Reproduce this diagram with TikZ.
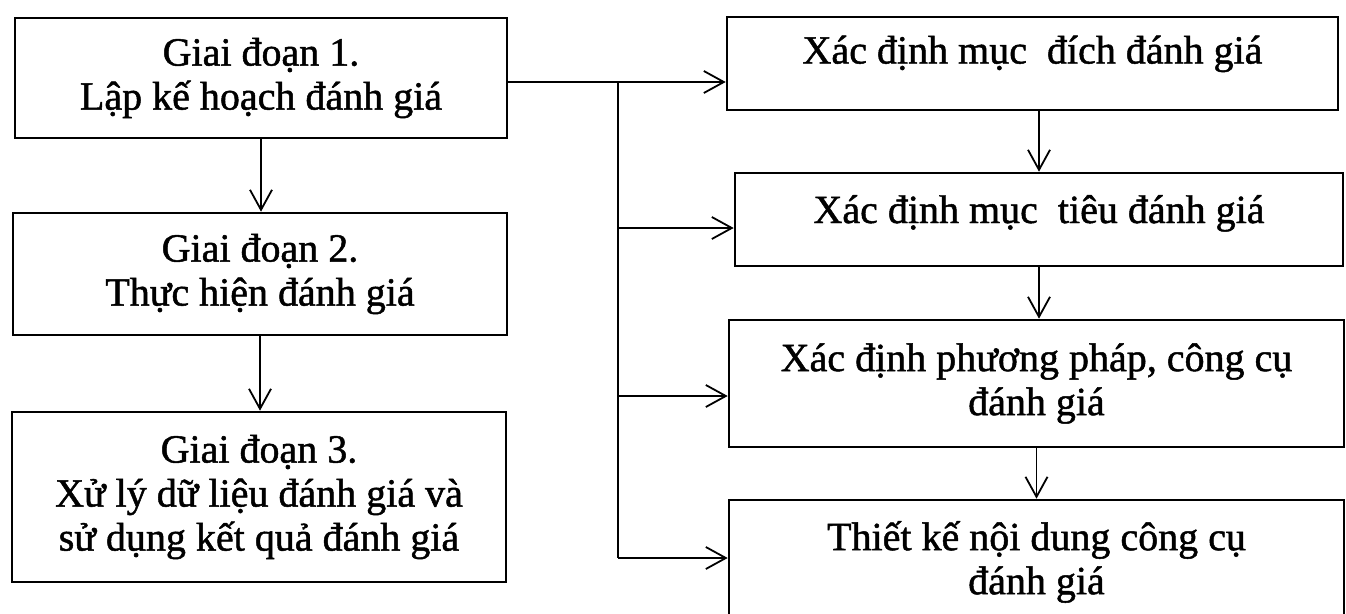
\documentclass[tikz,border=0pt]{standalone}
\usepackage{fontspec}
\setmainfont[FakeBold=1.2]{Liberation Serif}
\usetikzlibrary{arrows.meta,calc}
\begin{document}
\begin{tikzpicture}[x=1pt,y=-1pt,
  box/.style={draw=black,line width=2.6pt,rectangle,inner sep=0pt,align=center,
    font=\fontsize{40}{44}\selectfont},
  conn/.style={draw=black,line width=1.8pt,-{Straight Barb[length=20pt,width=22pt,line width=1.8pt]}},
  trunk/.style={draw=black,line width=1.8pt}]
\useasboundingbox (0,0) rectangle (1346,613);
\clip (0,0) rectangle (1346,613);
\fill[white] (0,0) rectangle (1346,613);

% left column
\node[box,minimum width=492pt,minimum height=120pt] (s1) at (261,78)
  {Giai đoạn 1.\\Lập kế hoạch đánh giá};
\node[box,minimum width=494pt,minimum height=122pt] (s2) at (260,274)
  {Giai đoạn 2.\\Thực hiện đánh giá};
\node[box,minimum width=494pt,minimum height=170pt] (s3) at (259,497)
  {Giai đoạn 3.\\Xử lý dữ liệu đánh giá và\\sử dụng kết quả đánh giá};

% right column
\node[box,minimum width=611pt,minimum height=93pt,text height=18pt,text depth=18pt] (a) at (1032.5,63.5)
  {Xác định mục~ đích đánh giá};
\node[box,minimum width=608pt,minimum height=93pt,text height=21pt,text depth=14pt] (b) at (1039,219.5)
  {Xác định mục~ tiêu đánh giá};
\node[box,minimum width=615pt,minimum height=127pt] (c) at (1036.5,383.5)
  {Xác định phương pháp, công cụ\\đánh giá};
\node[box,minimum width=615pt,minimum height=124pt] (d) at (1036.5,562)
  {Thiết kế nội dung công cụ\\đánh giá};

% branch points on the trunk
\coordinate (t1) at (618,82);
\coordinate (t2) at (618,228);
\coordinate (t3) at (618,396);
\coordinate (t4) at (618,558);

% left column arrows
\draw[conn] (s1.south) -- (s1.south |- s2.north);
\draw[conn] (s2.south) -- (s2.south |- s3.north);

% trunk and branches
\draw[conn] (s1.east |- t1) -- (a.west |- t1);
\draw[trunk] (t1) -- (t4);
\draw[conn] (t2) -- (b.west |- t2);
\draw[conn] (t3) -- (c.west |- t3);
\draw[conn] (t4) -- (d.west |- t4);

% right column arrows
\draw[conn] (a.south -| b.north) -- (b.north);
\draw[conn] (b.south) -- (b.south |- c.north);
\draw[conn] (c.south) -- (c.south |- d.north);
\end{tikzpicture}
\end{document}
